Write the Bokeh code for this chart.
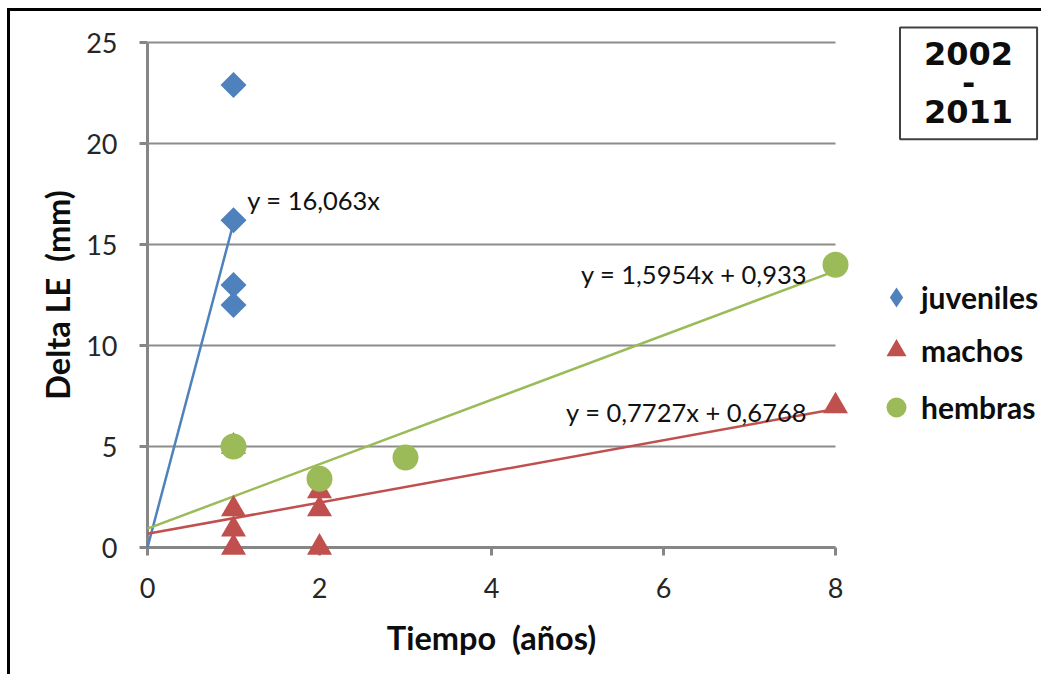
import math
from bokeh.plotting import figure
from bokeh.models import Label, Legend, LegendItem, FixedTicker, Range1d, LinearAxis
from bokeh.embed import file_html
from bokeh.resources import INLINE

# ---- data ----
juv_x = [1, 1, 1, 1]
juv_y = [22.9, 16.2, 13.0, 12.0]
machos_x = [1, 1, 1, 1, 2, 2, 2, 8]
machos_y = [5.0, 1.9, 0.9, 0.0, 2.8, 1.9, 0.0, 7.0]
hembras_x = [1, 2, 3, 8]
hembras_y = [5.0, 3.4, 4.45, 14.0]

# trend lines (equations shown on chart)
juv_slope, juv_icpt = 16.063, 0.0
mac_slope, mac_icpt = 0.7727, 0.6768
hem_slope, hem_icpt = 1.5954, 0.933
juv_fit_x = [0, 1]
mac_fit_x = [0, 8]
hem_fit_x = [0, 8]

x_ticks = [0, 2, 4, 6, 8]
y_ticks = [0, 5, 10, 15, 20, 25]
x_max = 8
y_max = 25

BLUE = "#4F81BD"
RED = "#C0504D"
GREEN = "#9BBB59"
FONT = "Lato"
AXIS_GRAY = "#868686"

# canvas geometry (page px): canvas spans x 11..1042, y 11..674
CX0, CY0 = 11, 11
FW, FH = 1031, 663
X0_PX, Y0_PX = 148, 547      # page position of data (0, 0)
PX_X = 86.0                  # px per x unit
PX_Y = 20.2                  # px per y unit

x_start = -(X0_PX - CX0) / PX_X
x_end = (CX0 + FW - X0_PX) / PX_X
y_end = (Y0_PX - CY0) / PX_Y
y_start = -(CY0 + FH - Y0_PX) / PX_Y

p = figure(frame_width=FW, frame_height=FH, output_backend="svg", toolbar_location=None,
           x_range=Range1d(x_start, x_end), y_range=Range1d(y_start, y_end),
           x_axis_location=None, y_axis_location=None,
           min_border=0)
p.styles = {"border-left": "3px solid black", "border-top": "3px solid black",
            "margin-left": "7px", "margin-top": "8px"}
p.outline_line_color = None
p.background_fill_color = "white"
p.xgrid.grid_line_color = None
p.ygrid.grid_line_color = None

axis_style = dict(axis_line_color=AXIS_GRAY, axis_line_width=3,
                  major_tick_line_color=AXIS_GRAY, major_tick_line_width=3,
                  major_tick_in=0, major_tick_out=8, minor_tick_line_color=None,
                  major_label_text_font=FONT, major_label_text_font_size="27px",
                  major_label_text_color="#262626", fixed_location=0, level="underlay")

xax = LinearAxis(ticker=FixedTicker(ticks=x_ticks), bounds=(0, x_max),
                 major_label_standoff=22, **axis_style)
yax = LinearAxis(ticker=FixedTicker(ticks=y_ticks), bounds=(0, y_max),
                 major_label_standoff=22, **axis_style)
p.add_layout(xax, "below")
p.add_layout(yax, "left")

# axis titles (centred on the axes' extent)
title_style = dict(text_font=FONT, text_font_style="bold", text_font_size="32.5px",
                   text_color="#0d0d0d", text_align="center", text_baseline="middle")
p.add_layout(Label(x=x_max / 2, y=-(637 - Y0_PX) / PX_Y, text="Tiempo\u00a0 (años)", **title_style))
p.add_layout(Label(x=-(X0_PX - 58) / PX_X, y=y_max / 2, text="Delta LE\u00a0 (mm)",
                   angle=math.pi / 2, **title_style))

# horizontal gridlines over the axis extent
grid_y = y_ticks[1:]
p.segment(x0=[0] * len(grid_y), x1=[x_max] * len(grid_y), y0=grid_y, y1=grid_y,
          line_color="#8c8c8c", line_width=2)

# trend lines
p.line(juv_fit_x, [juv_slope * x + juv_icpt for x in juv_fit_x], line_color=BLUE, line_width=2.5)
p.line(hem_fit_x, [hem_slope * x + hem_icpt for x in hem_fit_x], line_color=GREEN, line_width=2.5)
p.line(mac_fit_x, [mac_slope * x + mac_icpt for x in mac_fit_x], line_color=RED, line_width=2.5)

# points
# legend key for juveniles (legend keys are drawn unrotated, so a diamond marker;
# it sits underneath the rotated squares and is hidden by them)
r_juv_key = p.scatter(juv_x, juv_y, marker="diamond", size=19, fill_color=BLUE, line_color=None)
r_juv = p.scatter(juv_x, juv_y, marker="square", angle=0.785398, size=18.4, fill_color=BLUE, line_color=None)
r_mac = p.scatter(machos_x, machos_y, marker="triangle", size=25, fill_color=RED, line_color=None)
r_hem = p.scatter(hembras_x, hembras_y, marker="circle", size=26, fill_color=GREEN, line_color=None)

# equation labels
eq_style = dict(text_font=FONT, text_font_size="25.5px", text_color="#111111", text_baseline="middle")
p.add_layout(Label(x=1.16, y=17.18, text="y = 16,063x", text_align="left", **eq_style))
p.add_layout(Label(x=7.67, y=13.56, text="y = 1,5954x + 0,933", text_align="right", **eq_style))
p.add_layout(Label(x=7.67, y=6.73, text="y = 0,7727x + 0,6768", text_align="right", **eq_style))

# legends (one per entry, to control marker sizes); location relative to frame bottom-left
FRAME_L, FRAME_B = CX0, CY0 + FH
def make_legend(name, renderer, msize, cy_page):
    w = msize / 0.4
    leg = Legend(items=[LegendItem(label=name, renderers=[renderer])],
                 location=(897 - w / 2 - FRAME_L, FRAME_B - (cy_page + w / 2)),
                 glyph_width=int(round(w)), glyph_height=int(round(w)),
                 label_standoff=int(round(16 - w / 2)),
                 label_text_font=FONT, label_text_font_style="bold",
                 label_text_font_size="30px", label_text_color="#0d0d0d",
                 label_height=int(round(w)),
                 padding=0, margin=0, border_line_color=None, background_fill_alpha=0)
    p.add_layout(leg)

make_legend("juveniles", r_juv_key, 20, 297)
make_legend("machos", r_mac, 20, 350)
make_legend("hembras", r_hem, 20, 407)

# period box
p.add_layout(Label(x=9.547, y=22.98, text="2002\n-\n2011", text_align="center", text_baseline="middle",
                   text_font="DejaVu Sans", text_font_style="bold", text_font_size="32px",
                   text_color="#0d0d0d", text_line_height=0.76,
                   border_line_color="#404040", border_line_width=2, background_fill_color="white",
                   padding=(24, 8)))

open("out.html", "w").write(file_html(p, INLINE))
